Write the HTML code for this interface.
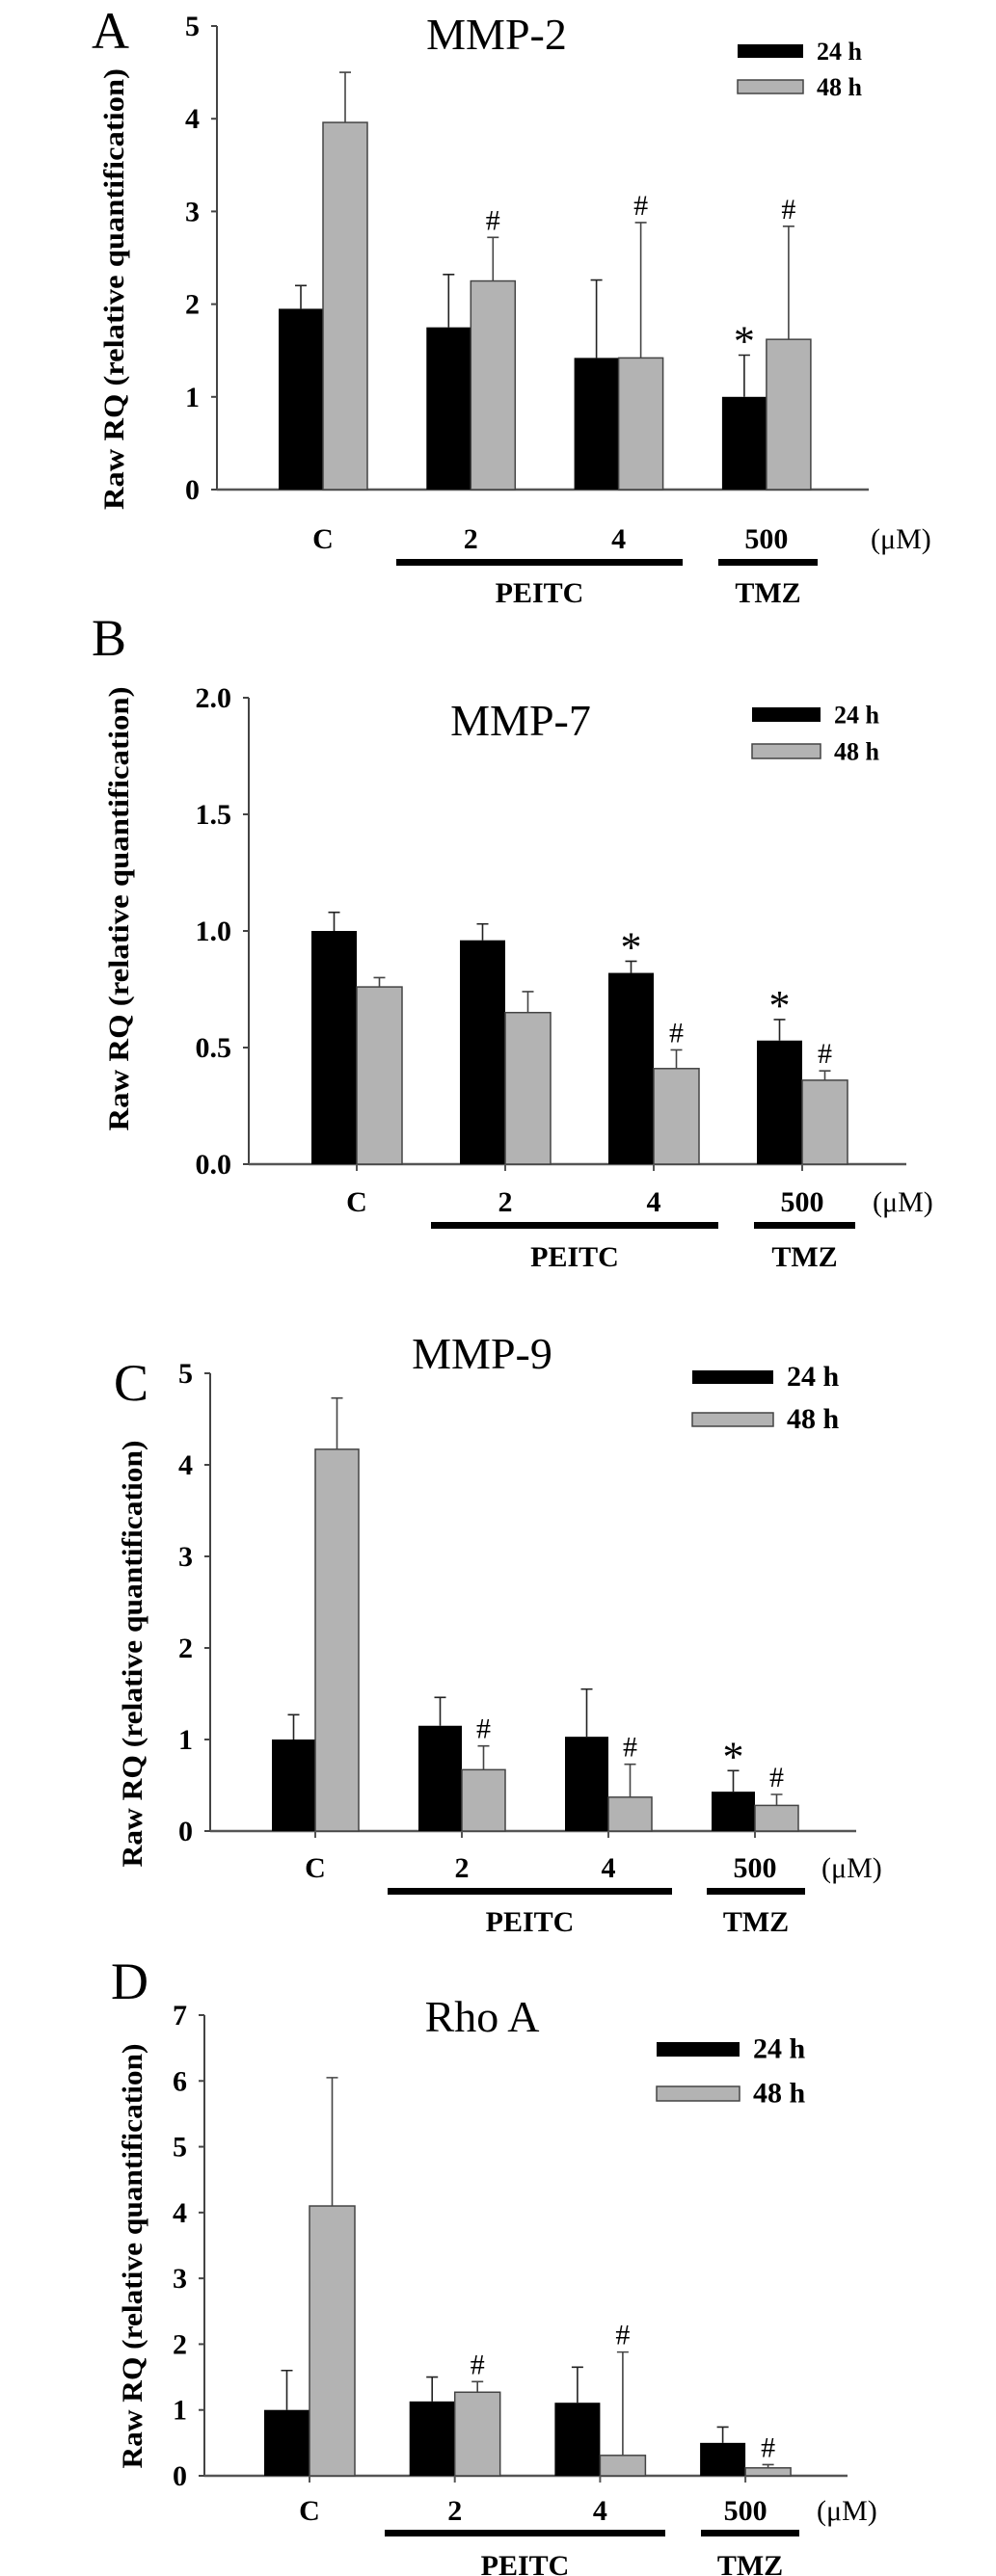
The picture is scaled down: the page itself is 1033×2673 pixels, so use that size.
<!DOCTYPE html>
<html><head><meta charset="utf-8">
<style>
html,body{margin:0;padding:0;background:#fff;}
svg{display:block;}
text{font-family:"Liberation Serif",serif;}
</style></head>
<body>
<svg id="fig" width="1033" height="2673" viewBox="0 0 1033 2673" xmlns="http://www.w3.org/2000/svg"></svg>
<script>
// ---- data ----
const groupLabels = ["C", "2", "4", "500"];
const aBlack = [1.95, 1.75, 1.42, 1.00];
const aGray  = [3.96, 2.25, 1.42, 1.62];
const aBlackErr = [2.20, 2.32, 2.26, 1.45];
const aGrayErr  = [4.50, 2.72, 2.88, 2.84];
const aTicks = ["0","1","2","3","4","5"];
const aTickVals = [0,1,2,3,4,5];

const bBlack = [1.00, 0.96, 0.82, 0.53];
const bGray  = [0.76, 0.65, 0.41, 0.36];
const bBlackErr = [1.08, 1.03, 0.87, 0.62];
const bGrayErr  = [0.80, 0.74, 0.49, 0.40];
const bTicks = ["0.0","0.5","1.0","1.5","2.0"];
const bTickVals = [0,0.5,1,1.5,2];

const cBlack = [1.00, 1.15, 1.03, 0.43];
const cGray  = [4.17, 0.67, 0.37, 0.28];
const cBlackErr = [1.27, 1.46, 1.55, 0.66];
const cGrayErr  = [4.73, 0.93, 0.73, 0.40];
const cTicks = ["0","1","2","3","4","5"];
const cTickVals = [0,1,2,3,4,5];

const dBlack = [1.00, 1.13, 1.11, 0.50];
const dGray  = [4.10, 1.27, 0.31, 0.12];
const dBlackErr = [1.60, 1.50, 1.65, 0.74];
const dGrayErr  = [6.05, 1.43, 1.88, 0.17];
const dTicks = ["0","1","2","3","4","5","6","7"];
const dTickVals = [0,1,2,3,4,5,6,7];

// significance markers: [series, groupIndex, symbol]
const aMarks = [["g",1,"#"],["g",2,"#"],["g",3,"#"],["b",3,"*"]];
const bMarks = [["b",2,"*"],["b",3,"*"],["g",2,"#"],["g",3,"#"]];
const cMarks = [["g",1,"#"],["g",2,"#"],["g",3,"#"],["b",3,"*"]];
const dMarks = [["g",1,"#"],["g",2,"#"],["g",3,"#"]];

const NS = "http://www.w3.org/2000/svg";
const svg = document.getElementById("fig");
function mk(tag, attrs, parent, txt){
  const e = document.createElementNS(NS, tag);
  for (const k in attrs) e.setAttribute(k, attrs[k]);
  if (txt !== undefined) e.textContent = txt;
  (parent || svg).appendChild(e);
  return e;
}

function panel(L, black, gray, bErr, gErr, ticks, tickVals, marks){
  const g = mk("g", {});
  
  
  const y = v => L.y0 - (v / L.yMax) * (L.y0 - L.yTop);
  const xc = i => L.c0 + i * L.sp;
  const bw = L.bw;

  let t = mk("text", {x:L.lx, y:L.ly, "font-size":54}, g, L.letter);
  
  
  t = mk("text", {x:L.tx, y:L.ty, "font-size":46, "text-anchor":"middle"}, g, L.title);
  
  

  let ax = mk("line", {x1:L.ax, y1:L.yTop, x2:L.ax, y2:L.y0, stroke:"#444", "stroke-width":2}, g);
  
  
  ax = mk("line", {x1:L.ax, y1:L.y0, x2:L.xr, y2:L.y0, stroke:"#555", "stroke-width":2.5}, g);
  
  
  tickVals.forEach((v, i) => {
    const tk = mk("line", {x1:L.ax-6, y1:y(v), x2:L.ax, y2:y(v), stroke:"#444", "stroke-width":2}, g);
    
    
    const tl = mk("text", {x:L.ax-18, y:y(v)+10, "font-size":30, "font-weight":"bold", "text-anchor":"end"}, g, ticks[i]);
    
    
  });
  const yt = mk("text", {x:0, y:0, "font-size":30, "font-weight":"bold", "text-anchor":"middle",
    textLength:L.ytl, lengthAdjust:"spacingAndGlyphs",
    transform:"translate(" + (L.ytx+10) + "," + L.ytc + ") rotate(-90)"}, g, "Raw RQ (relative quantification)");
  
  

  groupLabels.forEach((lab, i) => {
    const cx = xc(i);
    const rb = mk("rect", {x:cx-bw, y:y(black[i]), width:bw, height:L.y0-y(black[i]), fill:"#000"}, g);
    
    
    const rg = mk("rect", {x:cx, y:y(gray[i]), width:bw, height:L.y0-y(gray[i]), fill:"#b3b3b3", stroke:"#444", "stroke-width":1.5}, g);
    
    
    const bx = cx - bw/2, gx = cx + bw/2;
    const e1 = mk("path", {d:"M"+bx+","+y(black[i])+"V"+y(bErr[i])+"M"+(bx-6)+","+y(bErr[i])+"H"+(bx+6), stroke:"#222", "stroke-width":1.6, fill:"none"}, g);
    
    
    const e2 = mk("path", {d:"M"+gx+","+y(gray[i])+"V"+y(gErr[i])+"M"+(gx-6)+","+y(gErr[i])+"H"+(gx+6), stroke:"#444", "stroke-width":1.6, fill:"none"}, g);
    
    
    if (L.xticks) {
      const xt = mk("line", {x1:cx, y1:L.y0, x2:cx, y2:L.y0+7, stroke:"#555", "stroke-width":2}, g);
      
      
    }
    const xl = mk("text", {x:cx, y:L.lab, "font-size":30, "font-weight":"bold", "text-anchor":"middle"}, g, lab);
    
    
  });
  marks.forEach(m => {
    const i = m[1];
    const isB = m[0] === "b";
    const cx = isB ? xc(i) - bw/2 : xc(i) + bw/2;
    const top = y(isB ? bErr[i] : gErr[i]);
    const s = m[2] === "*"
      ? mk("text", {x:cx, y:top, "font-size":44, "text-anchor":"middle"}, g, "*")
      : mk("text", {x:cx, y:top-8, "font-size":30, "text-anchor":"middle"}, g, "#");
    
    
  });
  const um = mk("text", {x:L.um, y:L.lab, "font-size":30}, g, "(μM)");
  
  
  let gb = mk("rect", {x:L.p1, y:L.gy-3, width:L.p2-L.p1, height:7, fill:"#000"}, g);
  
  
  gb = mk("rect", {x:L.t1, y:L.gy-3, width:L.t2-L.t1, height:7, fill:"#000"}, g);
  
  
  let gl = mk("text", {x:(L.p1+L.p2)/2, y:L.gt, "font-size":30, "font-weight":"bold", "text-anchor":"middle"}, g, "PEITC");
  
  
  gl = mk("text", {x:(L.t1+L.t2)/2, y:L.gt, "font-size":30, "font-weight":"bold", "text-anchor":"middle"}, g, "TMZ");
  
  
  const lg = mk("g", {}, g);
  
  
  let r = mk("rect", {x:L.lgx, y:L.lg1, width:L.lgw, height:L.lgh, fill:"#000"}, lg);
  
  
  r = mk("rect", {x:L.lgx, y:L.lg2, width:L.lgw, height:L.lgh, fill:"#b3b3b3", stroke:"#444", "stroke-width":1.5}, lg);
  
  
  let lt = mk("text", {x:L.lgx+L.lgw+14, y:L.lg1+L.lgh/2+9, "font-size":L.lfs, "font-weight":"bold"}, lg, "24 h");
  
  
  lt = mk("text", {x:L.lgx+L.lgw+14, y:L.lg2+L.lgh/2+9, "font-size":L.lfs, "font-weight":"bold"}, lg, "48 h");
  
  
}

panel({letter:"A", lx:95, ly:50, title:"MMP-2", tx:515, ty:51, ax:225, xr:901, y0:508, yTop:27, yMax:5,
  c0:335, sp:153.3, bw:46, lab:569, um:903, p1:411, p2:708, t1:745, t2:848, gy:583, gt:625,
  ytx:118, ytc:300, ytl:458, lgx:765, lgw:68, lgh:14, lg1:46, lg2:83, lfs:26, xticks:false},
  aBlack, aGray, aBlackErr, aGrayErr, aTicks, aTickVals, aMarks);

panel({letter:"B", lx:95, ly:680, title:"MMP-7", tx:540, ty:763, ax:258, xr:940, y0:1208, yTop:724, yMax:2,
  c0:370, sp:154, bw:47, lab:1257, um:905, p1:447, p2:745, t1:782, t2:887, gy:1271, gt:1314,
  ytx:123, ytc:943, ytl:461, lgx:780, lgw:71, lgh:15, lg1:734, lg2:772, lfs:26, xticks:true},
  bBlack, bGray, bBlackErr, bGrayErr, bTicks, bTickVals, bMarks);

panel({letter:"C", lx:118, ly:1453, title:"MMP-9", tx:500, ty:1420, ax:218, xr:888, y0:1900, yTop:1425, yMax:5,
  c0:327, sp:152, bw:45, lab:1948, um:852, p1:402, p2:697, t1:733, t2:835, gy:1962, gt:2004,
  ytx:137, ytc:1716, ytl:443, lgx:718, lgw:84, lgh:14, lg1:1422, lg2:1466, lfs:30, xticks:true},
  cBlack, cGray, cBlackErr, cGrayErr, cTicks, cTickVals, cMarks);

panel({letter:"D", lx:115, ly:2074, title:"Rho A", tx:500, ty:2108, ax:212, xr:879, y0:2569, yTop:2091, yMax:7,
  c0:321, sp:150.7, bw:47, lab:2615, um:847, p1:399, p2:690, t1:727, t2:829, gy:2628, gt:2672,
  ytx:137, ytc:2341, ytl:441, lgx:681, lgw:86, lgh:15, lg1:2119, lg2:2165, lfs:30, xticks:true},
  dBlack, dGray, dBlackErr, dGrayErr, dTicks, dTickVals, dMarks);
</script>
</body></html>
